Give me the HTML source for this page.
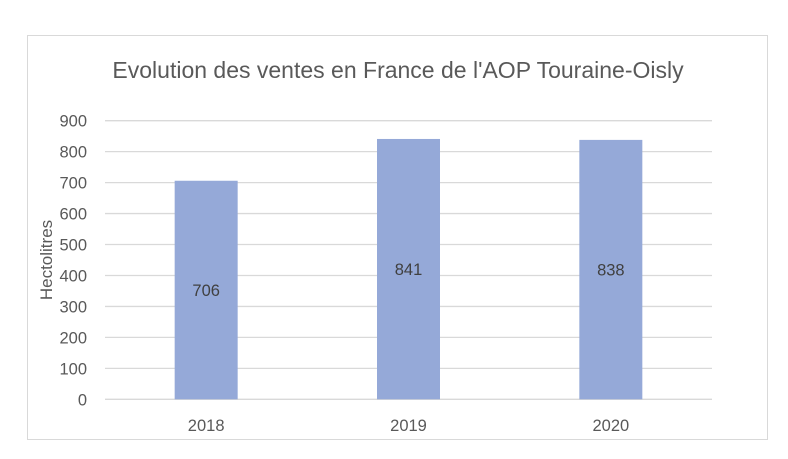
<!DOCTYPE html>
<html><head><meta charset="utf-8"><style>
body{margin:0;background:#fff;width:788px;height:454px;overflow:hidden}
svg{font-family:"Liberation Sans",sans-serif}
</style></head><body>
<svg width="788" height="454">
<rect x="27.5" y="35.5" width="740" height="404" fill="#fff" stroke="#d9d9d9"/>
<text x="398" y="78" text-anchor="middle" font-size="23" fill="#595959">Evolution des ventes en France de l'AOP Touraine-Oisly</text>
<text transform="translate(52,260) rotate(-90)" text-anchor="middle" font-size="17" fill="#595959">Hectolitres</text>
<g id="grid"></g><g id="bars"></g>
</svg>
<script>
const categories=["2018","2019","2020"];
const values=[706,841,838];
const yTicks=[0,100,200,300,400,500,600,700,800,900];
const x0=105,x1=712,yTop=120.7,yBot=399.3,yMax=900;
const y=v=>yBot-(v/yMax)*(yBot-yTop);
const bw=(x1-x0)/categories.length;
const xc=i=>x0+bw*(i+0.5);
const NS="http://www.w3.org/2000/svg";
const g=document.getElementById('grid'),b=document.getElementById('bars');
function mk(p,t,a){const e=document.createElementNS(NS,t);for(const k in a)e.setAttribute(k,a[k]);p.appendChild(e);return e;}
yTicks.forEach(t=>{
 const l=mk(g,'line',{x1:x0,x2:x1,y1:y(t),y2:y(t),stroke:'#d9d9d9','stroke-width':1.3});
 
 
 const tx=mk(g,'text',{x:87,y:y(t)+6,'text-anchor':'end','font-size':16.5,fill:'#595959'});
 tx.textContent=t;
 
 
});
categories.forEach((c,i)=>{
 const r=mk(b,'rect',{x:xc(i)-31.5,y:y(values[i]),width:63,height:yBot-y(values[i]),fill:'#95a9d8'});
 
 
 const v=mk(b,'text',{x:xc(i),y:(y(values[i])+yBot)/2+6,'text-anchor':'middle','font-size':16.5,fill:'#404040'});
 v.textContent=values[i];
 
 
 const xl=mk(b,'text',{x:xc(i),y:431,'text-anchor':'middle','font-size':16.5,fill:'#595959'});
 xl.textContent=c;
 
 
});
</script>
</body></html>
